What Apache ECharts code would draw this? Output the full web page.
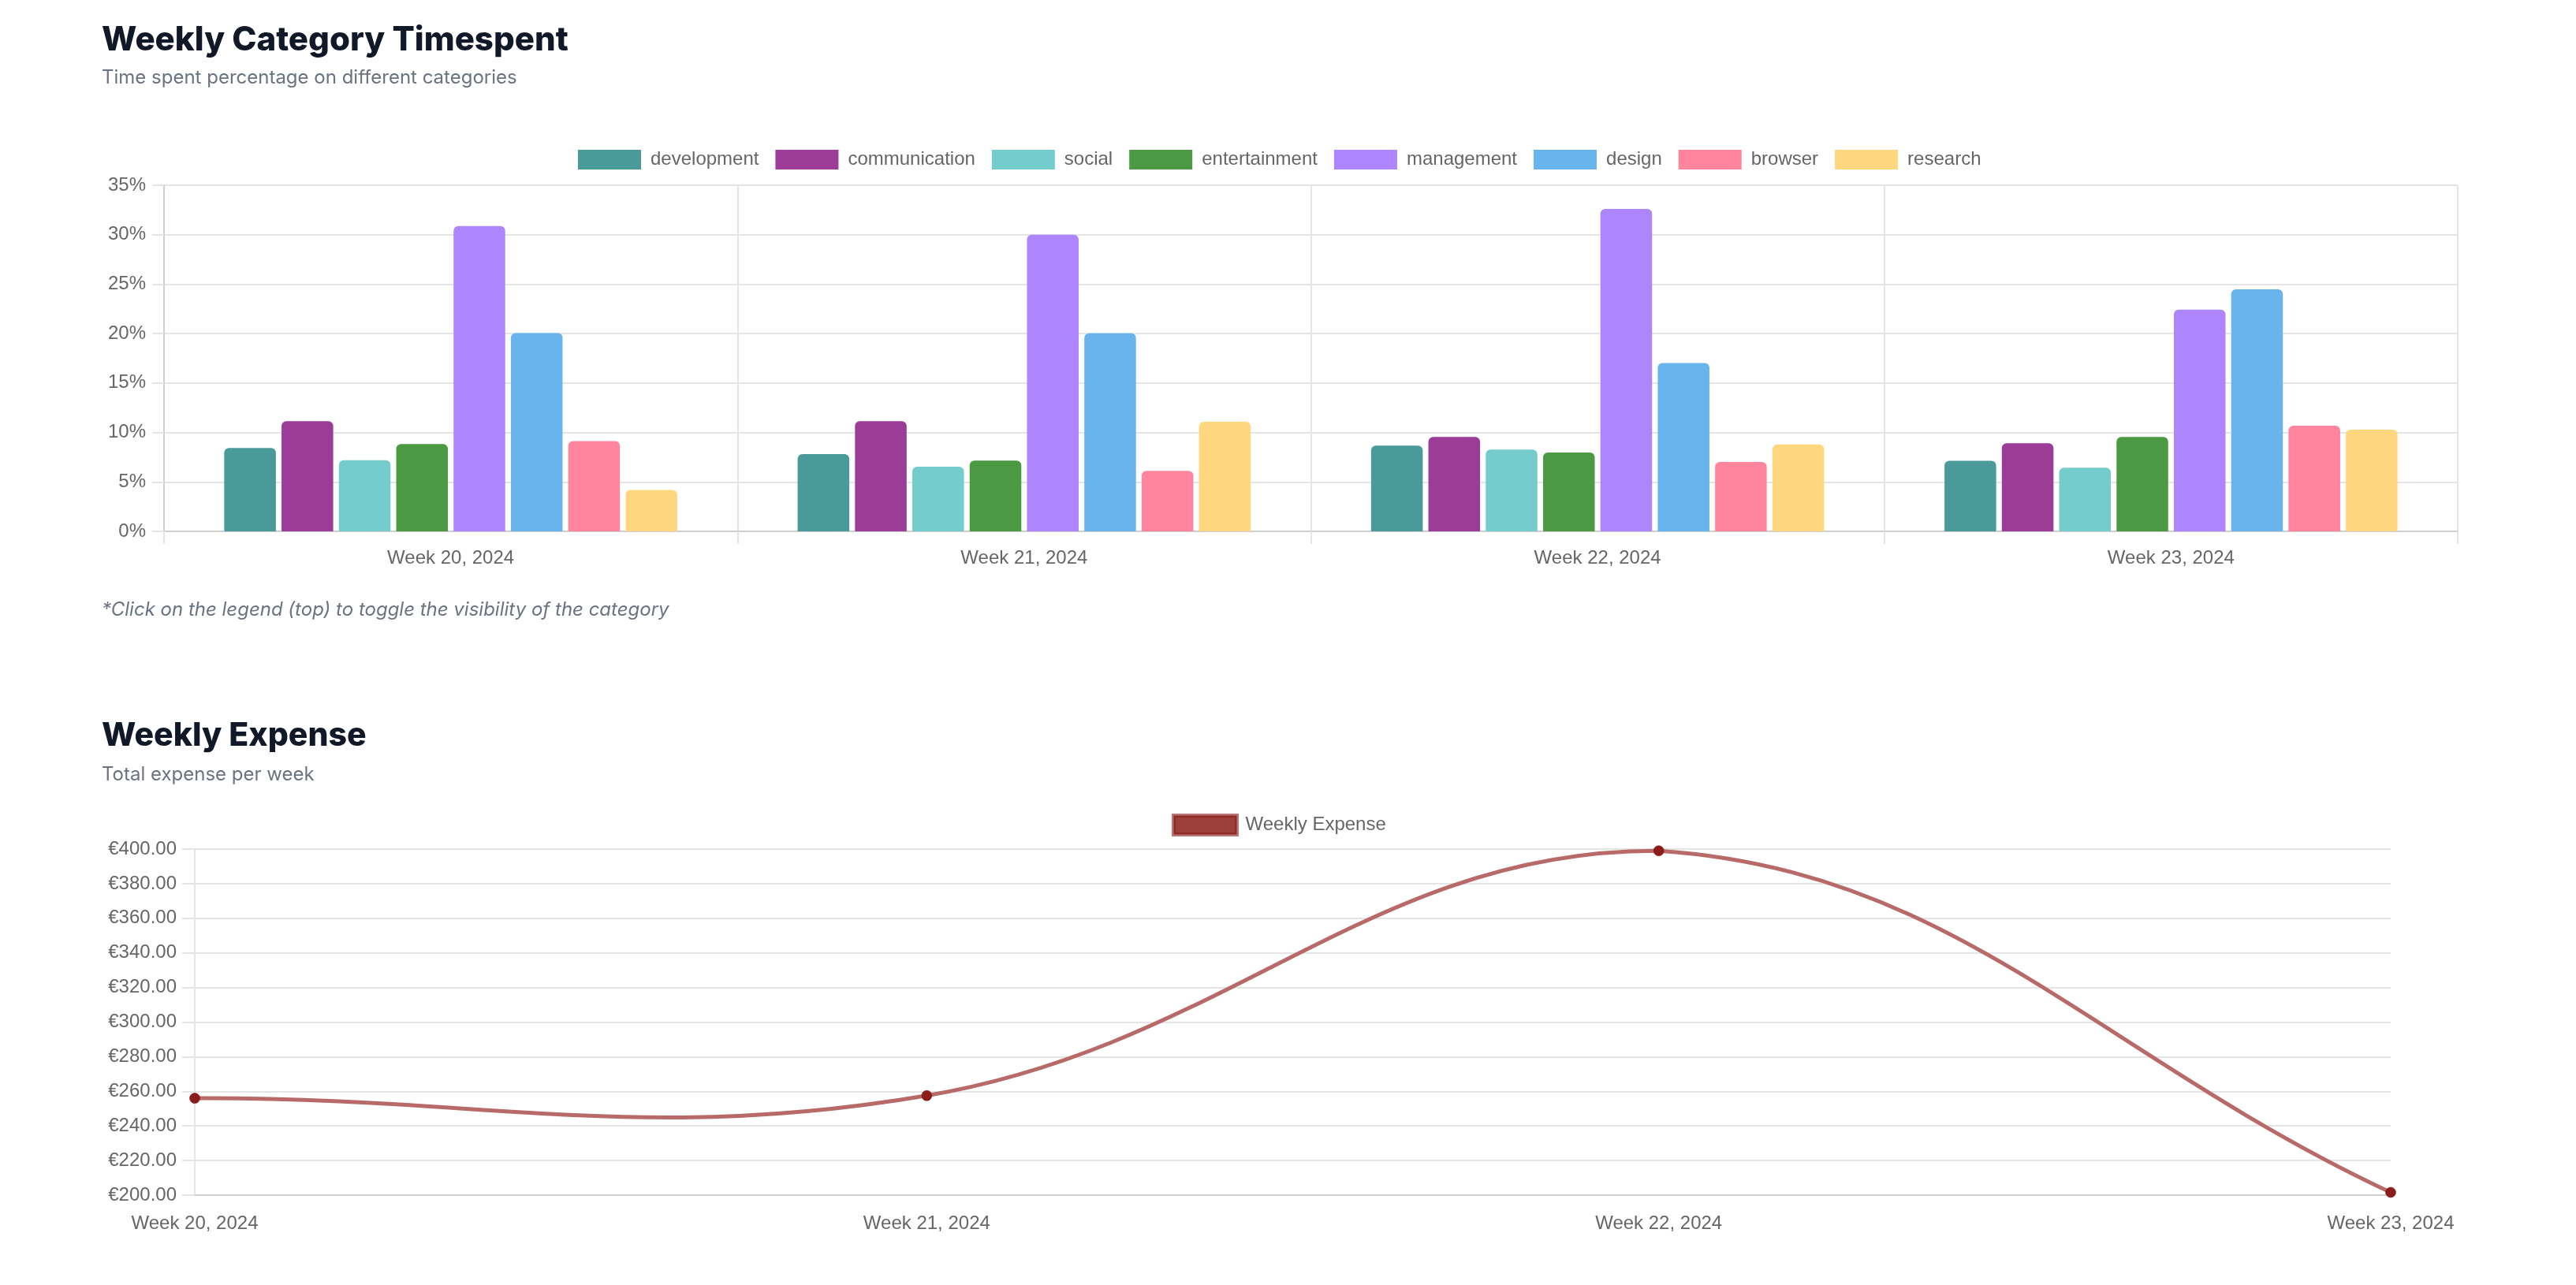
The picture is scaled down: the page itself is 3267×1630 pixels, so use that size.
<!DOCTYPE html>
<html>
<head>
<meta charset="utf-8">
<script src="https://cdn.jsdelivr.net/npm/echarts@6/dist/echarts.min.js"></script>
<style>
  html, body { margin: 0; padding: 0; background: #ffffff; }
  #chart { width: 3267px; height: 1630px; }
</style>
</head>
<body>
<div id="chart"></div>
<script>
// ---- data ----
const weeks = ['Week 20, 2024', 'Week 21, 2024', 'Week 22, 2024', 'Week 23, 2024'];
const categories = ['development', 'communication', 'social', 'entertainment', 'management', 'design', 'browser', 'research'];
const development   = [8.43, 7.82, 8.67, 7.13];
const communication = [11.14, 11.14, 9.55, 8.91];
const social        = [7.2, 6.54, 8.27, 6.44];
const entertainment = [8.83, 7.15, 7.98, 9.55];
const management    = [30.88, 30.0, 32.6, 22.42];
const design        = [20.05, 20.03, 17.02, 24.47];
const browser       = [9.12, 6.12, 7.02, 10.69];
const research      = [4.18, 11.09, 8.78, 10.29];
const weeklyExpense = [256.0, 257.5, 399.0, 201.6];
const percentTicks = { min: 0, max: 35, interval: 5 };
const euroTicks = { min: 200, max: 400, interval: 20 };

// ---- styles ----
const catColors = {
  development: '#4a9a9a',
  communication: '#9b3d98',
  social: '#74cdcc',
  entertainment: '#4b9a43',
  management: '#ad85fc',
  design: '#67b5ec',
  browser: '#ff859e',
  research: '#fed77e'
};
const catValues = { development, communication, social, entertainment, management, design, browser, research };

const axisFont = 'Liberation Sans, Arial, Helvetica, sans-serif';
const gridColor = '#e5e5e5';
const axisColor = '#cfcfcf';
const lineColor = '#b76a67';
const pointColor = '#8b1c1c';
const TENSION = 0.4;

const chart = echarts.init(document.getElementById('chart'), null, { renderer: 'canvas' });

const barSeries = categories.map(name => ({
  name: name,
  type: 'bar',
  xAxisIndex: 0,
  yAxisIndex: 0,
  data: catValues[name],
  barCategoryGap: '21%',
  barGap: '11%',
  itemStyle: { color: catColors[name], borderRadius: [6, 6, 0, 0] },
  emphasis: { disabled: true }
}));

// Spline (tension-based, like a monotone-free cardinal curve) built from axis coordinates
function controlPoints(pts, i, area) {
  const prev = pts[Math.max(i - 1, 0)];
  const cur = pts[i];
  const next = pts[Math.min(i + 1, pts.length - 1)];
  const d01 = Math.hypot(cur[0] - prev[0], cur[1] - prev[1]);
  const d12 = Math.hypot(next[0] - cur[0], next[1] - cur[1]);
  let s01 = d01 / (d01 + d12);
  let s12 = d12 / (d01 + d12);
  s01 = isNaN(s01) ? 0 : s01;
  s12 = isNaN(s12) ? 0 : s12;
  const fa = TENSION * s01;
  const fb = TENSION * s12;
  const clampX = x => Math.min(Math.max(x, area.x), area.x + area.width);
  const clampY = y => Math.min(Math.max(y, area.y), area.y + area.height);
  return {
    prev: [clampX(cur[0] - fa * (next[0] - prev[0])), clampY(cur[1] - fa * (next[1] - prev[1]))],
    next: [clampX(cur[0] + fb * (next[0] - prev[0])), clampY(cur[1] + fb * (next[1] - prev[1]))]
  };
}

function renderCurve(params, api) {
  const i = params.dataIndex;
  if (i >= weeklyExpense.length - 1) return null;
  const pts = weeklyExpense.map((v, k) => api.coord([k, v]));
  const area = params.coordSys;
  const a = controlPoints(pts, i, area);
  const b = controlPoints(pts, i + 1, area);
  return {
    type: 'bezierCurve',
    shape: {
      x1: pts[i][0], y1: pts[i][1],
      cpx1: a.next[0], cpy1: a.next[1],
      cpx2: b.prev[0], cpy2: b.prev[1],
      x2: pts[i + 1][0], y2: pts[i + 1][1]
    },
    style: { stroke: lineColor, lineWidth: 5, fill: null, lineCap: 'round' },
    silent: true
  };
}

const option = {
  backgroundColor: '#ffffff',
  animation: false,
  graphic: [
    { type: 'text', left: 129, top: 30, style: { text: 'Weekly Category Timespent', font: '800 42px Inter, sans-serif', fill: '#111827' } },
    { type: 'text', left: 129, top: 87, style: { text: 'Time spent percentage on different categories', font: '400 24px Inter, sans-serif', fill: '#6b7280' } },
    { type: 'text', left: 129, top: 762, style: { text: '*Click on the legend (top) to toggle the visibility of the category', font: 'italic 400 24px Inter, sans-serif', fill: '#6b7280' } },
    { type: 'text', left: 129, top: 913, style: { text: 'Weekly Expense', font: '800 41px Inter, sans-serif', fill: '#111827' } },
    { type: 'text', left: 129, top: 971, style: { text: 'Total expense per week', font: '400 24px Inter, sans-serif', fill: '#6b7280' } }
  ],
  legend: [
    {
      data: categories,
      left: 733,
      top: 190,
      padding: 0,
      itemWidth: 80,
      itemHeight: 25,
      itemGap: 21,
      icon: 'rect',
      textStyle: { fontSize: 24, color: '#666666', fontFamily: axisFont, padding: [0, 0, 0, 7] }
    },
    {
      data: [{ name: 'Weekly Expense', icon: 'rect', itemStyle: { color: '#9c3f3b', borderColor: 'rgba(139,26,26,0.6)', borderWidth: 5 } }],
      left: 1486,
      top: 1032,
      padding: 0,
      itemWidth: 80,
      itemHeight: 24,
      textStyle: { fontSize: 24, color: '#666666', fontFamily: axisFont, padding: [0, 0, 0, 6] }
    }
  ],
  grid: [
    { left: 208, right: 150, top: 235, height: 439, containLabel: false },
    { left: 247, right: 235, top: 1077, height: 439, containLabel: false }
  ],
  xAxis: [
    {
      type: 'category',
      gridIndex: 0,
      data: weeks,
      boundaryGap: true,
      axisLine: { show: true, lineStyle: { color: axisColor, width: 2 } },
      axisTick: { show: true, length: 16, lineStyle: { color: gridColor, width: 2 } },
      axisLabel: { fontSize: 24, color: '#666666', fontFamily: axisFont, margin: 22 },
      splitLine: { show: true, lineStyle: { color: gridColor, width: 2 } }
    },
    {
      type: 'category',
      gridIndex: 1,
      data: weeks,
      boundaryGap: false,
      axisLine: { show: true, lineStyle: { color: axisColor, width: 2 } },
      axisTick: { show: false },
      axisLabel: { fontSize: 24, color: '#666666', fontFamily: axisFont, margin: 24, showMinLabel: true, showMaxLabel: true, interval: 0 },
      splitLine: { show: false }
    }
  ],
  yAxis: [
    {
      type: 'value',
      gridIndex: 0,
      min: percentTicks.min,
      max: percentTicks.max,
      interval: percentTicks.interval,
      axisLine: { show: true, lineStyle: { color: axisColor, width: 2 } },
      axisTick: { show: true, length: 15, lineStyle: { color: gridColor, width: 2 } },
      axisLabel: { fontSize: 24, color: '#666666', fontFamily: axisFont, margin: 23, formatter: '{value}%' },
      splitLine: { show: true, lineStyle: { color: gridColor, width: 2 } }
    },
    {
      type: 'value',
      gridIndex: 1,
      min: euroTicks.min,
      max: euroTicks.max,
      interval: euroTicks.interval,
      axisLine: { show: true, lineStyle: { color: gridColor, width: 2 } },
      axisTick: { show: true, length: 16, lineStyle: { color: gridColor, width: 2 } },
      axisLabel: { fontSize: 24, color: '#666666', fontFamily: axisFont, margin: 23, formatter: v => '€' + v.toFixed(2) },
      splitLine: { show: true, lineStyle: { color: gridColor, width: 2 } }
    }
  ],
  series: barSeries.concat([
    {
      name: 'Weekly Expense',
      type: 'custom',
      coordinateSystem: 'cartesian2d',
      xAxisIndex: 1,
      yAxisIndex: 1,
      data: weeklyExpense.map((v, k) => [k, v]),
      encode: { x: 0, y: 1 },
      renderItem: renderCurve,
      itemStyle: { color: '#9c3f3b' },
      clip: false,
      silent: true,
      z: 2
    },
    {
      name: 'Weekly Expense',
      type: 'line',
      xAxisIndex: 1,
      yAxisIndex: 1,
      data: weeklyExpense,
      symbol: 'circle',
      symbolSize: 13,
      showSymbol: true,
      lineStyle: { opacity: 0, width: 0 },
      itemStyle: { color: pointColor, borderColor: 'rgba(139,26,26,0.6)', borderWidth: 1 },
      emphasis: { disabled: true },
      z: 3
    }
  ])
};

chart.setOption(option);
</script>
</body>
</html>
